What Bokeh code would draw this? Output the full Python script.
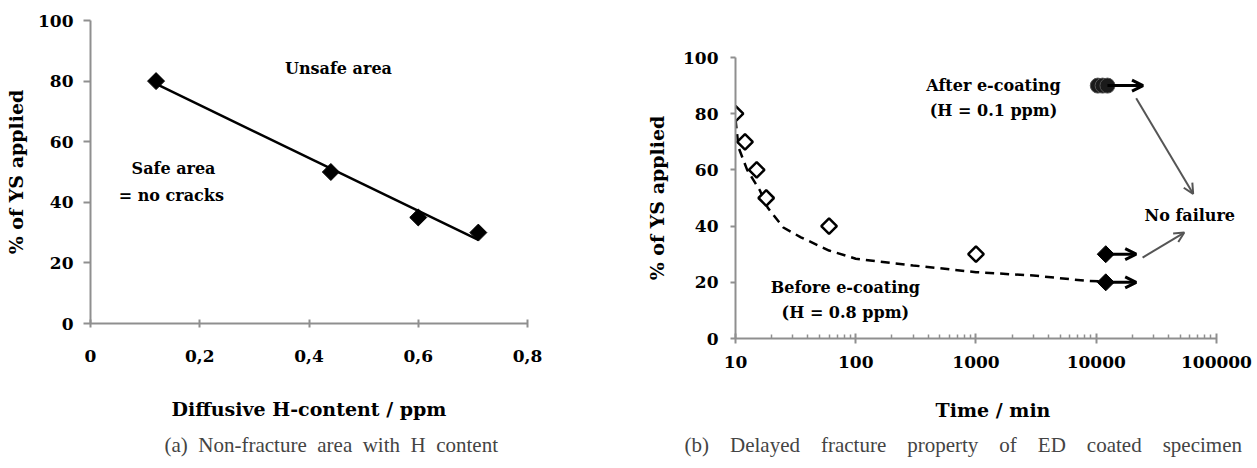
import numpy as np
from bokeh.plotting import figure
from bokeh.layouts import row, column
from bokeh.models import Range1d, FixedTicker, Title, Arrow, OpenHead, Spacer
from bokeh.embed import file_html
from bokeh.resources import INLINE
from bokeh.core.properties import value

# ---------------- data: panel (a) ----------------
h_content = [0.12, 0.44, 0.60, 0.71]
ys_applied_a = [80, 50, 35, 30]
x_ticks_a = [0, 0.2, 0.4, 0.6, 0.8]
x_tick_labels_a = ["0", "0,2", "0,4", "0,6", "0,8"]
y_ticks = [0, 20, 40, 60, 80, 100]

# ---------------- data: panel (b) ----------------
time_before = [10, 12, 15, 18, 60, 1000]
ys_before = [80, 70, 60, 50, 40, 30]
time_nofail = [12000, 12000]
ys_nofail = [30, 20]
time_after = [10300, 11300, 12400]
ys_after = [90, 90, 90]
trend_time = [10, 10.6, 12.5, 16, 18.5, 25, 35, 60, 100, 300, 1000, 3000, 8000, 12000]
trend_ys = [78, 68, 60, 52.6, 46.6, 39.5, 36, 31.3, 28.4, 26, 23.6, 22.4, 20.6, 20.2]
x_ticks_b = [10, 100, 1000, 10000, 100000]
x_tick_labels_b = ["10", "100", "1000", "10000", "100000"]

CAP_FONT = "Liberation Serif"
F = "DejaVu Serif"
AXIS_COLOR = "#8f8f8f"
NB = "\u00a0"


def style_axes(p):
    for ax in [p.xaxis[0], p.yaxis[0]]:
        ax.axis_line_color = AXIS_COLOR
        ax.axis_line_width = 2
        ax.major_tick_line_color = AXIS_COLOR
        ax.major_tick_line_width = 2
        ax.minor_tick_line_color = AXIS_COLOR
        ax.minor_tick_line_width = 1.5
        ax.major_label_text_font = F
        ax.major_label_text_font_style = "bold"
        ax.major_label_text_font_size = "17px"
        ax.major_label_text_color = "black"
        ax.axis_label_text_font = F
        ax.axis_label_text_font_style = "bold"
        ax.axis_label_text_font_size = "19px"
        ax.axis_label_text_color = "black"
    p.xgrid.visible = False
    p.ygrid.visible = False
    p.outline_line_color = None


# ================= panel (a) =================
pa = figure(width=600, height=466, output_backend="svg", toolbar_location=None,
            x_range=Range1d(0, 0.8), y_range=Range1d(0, 100),
            min_border_left=90, min_border_right=73, min_border_top=20,
            min_border_bottom=143)
style_axes(pa)
pa.xaxis.ticker = FixedTicker(ticks=x_ticks_a)
pa.xaxis.major_label_overrides = {t: l for t, l in zip(x_ticks_a, x_tick_labels_a)}
pa.yaxis.ticker = FixedTicker(ticks=y_ticks)
pa.xaxis.major_tick_in = 4
pa.xaxis.major_tick_out = 4
pa.yaxis.major_tick_in = 0
pa.yaxis.major_tick_out = 7
pa.xaxis.major_label_standoff = 22
pa.yaxis.major_label_standoff = 10
pa.xaxis.axis_label = "Diffusive H-content / ppm"
pa.yaxis.axis_label = "% of YS applied"
pa.xaxis.axis_label_standoff = 33
pa.yaxis.axis_label_standoff = 8

slope, intercept = np.polyfit(h_content, ys_applied_a, 1)
fit_x = [min(h_content), max(h_content)]
fit_y = [slope * v + intercept for v in fit_x]
pa.line(fit_x, fit_y, line_color="black", line_width=2.5)
pa.scatter(h_content, ys_applied_a, marker="square", angle=np.pi / 4, size=12,
           fill_color="black", line_color="black")

pa.text(x=[0.454], y=[84.2], text=["Unsafe area"], text_font=value(F),
        text_font_style="bold", text_font_size="16px", text_align="center",
        text_baseline="middle")
pa.text(x=[0.152, 0.148], y=[51.2, 42.2], text=["Safe area", "= no cracks"],
        text_font=value(F), text_font_style="bold", text_font_size="16px",
        text_align="center", text_baseline="middle")

pa.add_layout(Title(text="(a) Non-fracture area with H content".replace(" ", " " + NB),
                    align="left", offset=74, text_font=CAP_FONT,
                    text_font_style="normal", text_font_size="21px", standoff=16),
              "below")

# ================= panel (b) =================
pb = figure(width=655, height=429, output_backend="svg", toolbar_location=None,
            x_axis_type="log", x_range=Range1d(10, 191900), y_range=Range1d(0, 100),
            min_border_left=135, min_border_right=5, min_border_top=20,
            min_border_bottom=128)
style_axes(pb)
pb.xaxis.bounds = (10, 100000)
minor_b = [m * 10 ** e for e in range(1, 5) for m in range(2, 10)]
pb.xaxis.ticker = FixedTicker(ticks=x_ticks_b, minor_ticks=minor_b)
pb.xaxis.major_label_overrides = {t: l for t, l in zip(x_ticks_b, x_tick_labels_b)}
pb.yaxis.ticker = FixedTicker(ticks=y_ticks)
pb.xaxis.major_tick_in = 5
pb.xaxis.major_tick_out = 5
pb.xaxis.minor_tick_in = 4
pb.xaxis.minor_tick_out = 0
pb.yaxis.major_tick_in = 0
pb.yaxis.major_tick_out = 5
pb.xaxis.major_label_standoff = 12
pb.yaxis.major_label_standoff = 12
pb.xaxis.axis_label = "Time / min"
pb.yaxis.axis_label = "% of YS applied"
pb.xaxis.axis_label_standoff = 28
pb.yaxis.axis_label_standoff = 12

pb.line(trend_time, trend_ys, line_color="black", line_width=2.5, line_dash="9 6")

# black "no failure" arrows
for t, yv, t_end in [(time_nofail[0], ys_nofail[0], 21500),
                     (time_nofail[1], ys_nofail[1], 21500),
                     (time_after[-1], ys_after[-1], 24500)]:
    pb.add_layout(Arrow(x_start=t, y_start=yv, x_end=t_end, y_end=yv,
                        line_color="black", line_width=3,
                        end=OpenHead(size=11, line_color="black", line_width=3)))

pb.scatter(time_before, ys_before, marker="square", angle=np.pi / 4, size=11,
           fill_color="white", line_color="black", line_width=2.5)
pb.scatter(time_nofail, ys_nofail, marker="square", angle=np.pi / 4, size=12,
           fill_color="black", line_color="black")
pb.scatter(time_after, ys_after, marker="circle", size=15,
           fill_color="#1a1a1a", line_color="#555555", line_width=1)

# grey pointer arrows to "No failure"
pb.add_layout(Arrow(x_start=21500, y_start=85.5, x_end=64000, y_end=51.5,
                    line_color="#555555", line_width=2,
                    end=OpenHead(size=10, line_color="#555555", line_width=2)))
pb.add_layout(Arrow(x_start=24300, y_start=28.8, x_end=54000, y_end=37.7,
                    line_color="#555555", line_width=2,
                    end=OpenHead(size=10, line_color="#555555", line_width=2)))

pb.text(x=[1400, 1400, 82, 82, 60000], y=[90, 81, 18.1, 9.2, 43.6],
        text=["After e-coating", "(H = 0.1 ppm)", "Before e-coating",
              "(H = 0.8 ppm)", "No failure"],
        text_font=value(F), text_font_style="bold", text_font_size="16px",
        text_align="center", text_baseline="middle")

pb.add_layout(Title(text="(b) Delayed fracture property of ED coated specimen".replace(" ", " " + NB * 3),
                    align="left", offset=-51, text_font=CAP_FONT,
                    text_font_style="normal", text_font_size="21px", standoff=15),
              "below")

layout = row(pa, column(Spacer(height=37), pb))
open("out.html", "w").write(file_html(layout, INLINE))
